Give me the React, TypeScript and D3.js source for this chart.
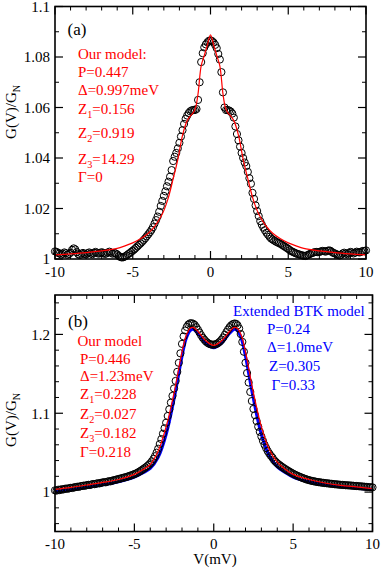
import React from "react";
import * as d3 from "d3";

// bias voltages of the measured points (mV)
const voltages = d3.range(-100, 101).map((i) => i / 10);

// panel (a): measured G(V)/G_N
const expA = [
  1.003, 1.0028, 1.0024, 1.0022, 1.0018, 1.0021, 1.0026, 1.0023, 1.0017, 1.002,
  1.0025, 1.0036, 1.0042, 1.0038, 1.0027, 1.0019, 1.0016, 1.0021, 1.0024, 1.002,
  1.0018, 1.0023, 1.0026, 1.0022, 1.0019, 1.0024, 1.0028, 1.0025, 1.0021, 1.0023,
  1.0027, 1.0024, 1.002, 1.0022, 1.0026, 1.0029, 1.0025, 1.0021, 1.0024, 1.0022,
  1.0018, 1.0012, 1.0008, 1.0006, 1.0007, 1.001, 1.0014, 1.0019, 1.0023, 1.0028,
  1.0033, 1.0038, 1.0044, 1.005, 1.0056, 1.0062, 1.0068, 1.0075, 1.0082, 1.009,
  1.0098, 1.0106, 1.0115, 1.0126, 1.014, 1.0154, 1.0168, 1.0187, 1.021, 1.023,
  1.025, 1.0268, 1.0288, 1.0306, 1.0326, 1.0352, 1.0388, 1.0405, 1.042, 1.0438,
  1.046, 1.0485, 1.051, 1.0535, 1.0555, 1.0568, 1.0578, 1.0585, 1.0589, 1.059,
  1.059, 1.0594, 1.063, 1.07, 1.078, 1.0815, 1.0838, 1.085, 1.0858, 1.0864,
  1.0866,
  1.0863, 1.0857, 1.0848, 1.0835, 1.0812, 1.079, 1.074, 1.066, 1.06, 1.059,
  1.059, 1.0588, 1.0584, 1.0576, 1.056, 1.0525, 1.0495, 1.047, 1.0445, 1.042,
  1.04, 1.0382, 1.0368, 1.0345, 1.032, 1.0298, 1.0262, 1.0238, 1.0212, 1.019,
  1.017, 1.015, 1.0136, 1.0124, 1.0114, 1.0104, 1.0096, 1.0088, 1.0081, 1.0077,
  1.0073, 1.0069, 1.0066, 1.0063, 1.006, 1.0056, 1.0052, 1.0048, 1.0044, 1.004,
  1.0035, 1.0031, 1.0028, 1.0025, 1.0022, 1.002, 1.0018, 1.0016, 1.0014, 1.0013,
  1.0012, 1.0014, 1.0017, 1.002, 1.0023, 1.0025, 1.0027, 1.0028, 1.0027, 1.0028,
  1.003, 1.0032, 1.0031, 1.0029, 1.0032, 1.0034, 1.0033, 1.0028, 1.0024, 1.0022,
  1.0019, 1.0016, 1.0014, 1.0017, 1.0022, 1.0025, 1.0022, 1.0019, 1.0024, 1.0028,
  1.0026, 1.0022, 1.0025, 1.0029, 1.0027, 1.0026, 1.0029, 1.0032, 1.0031, 1.0034,
];

// panel (a): our model fit
const fitAV = [-10, -9, -8, -7, -6, -5.5, -5, -4.5, -4, -3.6, -3.1, -2.75, -2.4, -2.1, -1.8, -1.5, -1.3, -1.1, -0.95, -0.8, -0.6, -0.4, -0.2, 0,
  0.2, 0.4, 0.6, 0.8, 0.95, 1.1, 1.3, 1.5, 1.8, 2.1, 2.4, 2.75, 3.1, 3.6, 4, 4.5, 5, 5.5, 6, 7, 8, 9, 10];
const fitAG = [1.0016, 1.002, 1.0025, 1.0032, 1.0042, 1.0052, 1.0064, 1.008, 1.0102, 1.0128, 1.0178, 1.0235, 1.0318, 1.0395, 1.049, 1.0548, 1.0566, 1.058, 1.0602, 1.0655, 1.0765, 1.0806, 1.0848, 1.0888,
  1.0848, 1.0806, 1.0765, 1.0655, 1.0602, 1.058, 1.0566, 1.0548, 1.049, 1.0395, 1.0318, 1.0235, 1.0178, 1.0128, 1.0102, 1.008, 1.0064, 1.0052, 1.0042, 1.0032, 1.0025, 1.002, 1.0016];

// panel (b): measured G(V)/G_N
const expB = [
  1.0022, 1.0018, 1.003, 1.0025, 1.0036, 1.0032, 1.004, 1.0045, 1.0041, 1.005,
  1.0054, 1.0052, 1.006, 1.0063, 1.0068, 1.0066, 1.0074, 1.0078, 1.0082, 1.008,
  1.0088, 1.0092, 1.009, 1.0097, 1.0102, 1.01, 1.0107, 1.0112, 1.011, 1.0118,
  1.0122, 1.0126, 1.0124, 1.0132, 1.0138, 1.0136, 1.0145, 1.015, 1.0155, 1.016,
  1.0166, 1.017, 1.0176, 1.0182, 1.0186, 1.0192, 1.0198, 1.0206, 1.0212, 1.022,
  1.0228, 1.0236, 1.0246, 1.0258, 1.027, 1.0284, 1.0298, 1.0312, 1.0328, 1.0345,
  1.0365, 1.039, 1.042, 1.0455, 1.05, 1.055, 1.061, 1.0672, 1.074, 1.081,
  1.088, 1.0965, 1.105, 1.1135, 1.122, 1.1315, 1.141, 1.1525, 1.164, 1.176,
  1.188, 1.1975, 1.205, 1.2095, 1.2125, 1.214, 1.2142, 1.2135, 1.212, 1.2092,
  1.206, 1.2025, 1.199, 1.196, 1.1935, 1.1912, 1.1895, 1.1882, 1.1874, 1.187,
  1.187,
  1.1874, 1.1882, 1.1895, 1.1912, 1.1935, 1.1962, 1.1995, 1.203, 1.2062, 1.2092,
  1.2115, 1.213, 1.2138, 1.2135, 1.2115, 1.2075, 1.2005, 1.1905, 1.178, 1.164,
  1.151, 1.139, 1.127, 1.1155, 1.1055, 1.0975, 1.09, 1.083, 1.0765, 1.0705,
  1.065, 1.06, 1.0558, 1.052, 1.0488, 1.046, 1.0436, 1.0405, 1.0384, 1.0366,
  1.035, 1.0335, 1.032, 1.0306, 1.0293, 1.028, 1.0268, 1.0256, 1.0244, 1.0233,
  1.0223, 1.0213, 1.0204, 1.0195, 1.0187, 1.0179, 1.0171, 1.0164, 1.0157, 1.0151,
  1.0146, 1.0141, 1.0137, 1.0133, 1.0129, 1.0126, 1.0123, 1.012, 1.0117, 1.0114,
  1.0112, 1.011, 1.0107, 1.0105, 1.0103, 1.01, 1.0098, 1.0097, 1.0094, 1.0092,
  1.0091, 1.0089, 1.0087, 1.0086, 1.0085, 1.0083, 1.0082, 1.008, 1.0078, 1.0077,
  1.0075, 1.0073, 1.0072, 1.007, 1.0068, 1.0066, 1.0064, 1.0062, 1.0061, 1.006,
];

// panel (b): our model fit (red) and extended BTK fit (blue)
const fitBV = [-10, -9, -8, -7, -6, -5, -4.5, -4, -3.5, -3, -2.5, -2, -1.75, -1.5, -1.3, -1, -0.5, 0,
  0.5, 1, 1.3, 1.5, 1.75, 2, 2.5, 3, 3.5, 4, 4.5, 5, 6, 7, 8, 9, 10];
const fitBG = [1.0035, 1.006, 1.009, 1.0122, 1.016, 1.0225, 1.028, 1.035, 1.052, 1.083, 1.126, 1.178, 1.198, 1.2075, 1.209, 1.204, 1.192, 1.186,
  1.192, 1.204, 1.209, 1.2075, 1.198, 1.178, 1.126, 1.083, 1.054, 1.038, 1.029, 1.0225, 1.016, 1.0115, 1.0085, 1.0065, 1.0045];
const btkG = [1.001, 1.003, 1.006, 1.0092, 1.013, 1.019, 1.024, 1.03, 1.044, 1.073, 1.118, 1.172, 1.194, 1.2045, 1.2065, 1.2015, 1.189, 1.183,
  1.189, 1.2015, 1.2065, 1.2045, 1.194, 1.172, 1.118, 1.073, 1.046, 1.032, 1.025, 1.019, 1.013, 1.0095, 1.007, 1.005, 1.0035];

const xTicks = [-10, -5, 0, 5, 10];
const xTickLabels = ["-10", "-5", "0", "5", "10"];
const yTicksA = [1, 1.02, 1.04, 1.06, 1.08, 1.1];
const yTickLabelsA = ["1", "1.02", "1.04", "1.06", "1.08", "1.1"];
const yTicksB = [1, 1.1, 1.2];
const yTickLabelsB = ["1", "1.1", "1.2"];

const paramsA = ["Our model:", "P=0.447", "Δ=0.997meV", "Z_1=0.156", "Z_2=0.919", "Z_3=14.29", "Γ=0"];
const paramsB = ["Our model", "P=0.446", "Δ=1.23meV", "Z_1=0.228", "Z_2=0.027", "Z_3=0.182", "Γ=0.218"];
const paramsBTK = ["Extended BTK model", "P=0.24", "Δ=1.0meV", "Z=0.305", "Γ=0.33"];

const RED = "#ff0000";
const BLUE = "#0000ff";
const FONT = "'Liberation Serif', 'Times New Roman', serif";

// "Z_1=0.156" -> Z with subscript 1
function Label({ s, x, y, color, size = 15 }) {
  const parts = s.split("_");
  if (parts.length === 1)
    return (
      <text x={x} y={y} fill={color} fontSize={size}>
        {s}
      </text>
    );
  return (
    <text x={x} y={y} fill={color} fontSize={size}>
      {parts[0]}
      <tspan fontSize={size * 0.68} dy={4}>
        {parts[1][0]}
      </tspan>
      <tspan dy={-4}>{parts[1].slice(1)}</tspan>
    </text>
  );
}

function Frame({ x, y, yTicks, yLabels, yMinor, xLabelY }) {
  const [l, r] = x.range();
  const [b, t] = y.range();
  const xMinor = d3.range(-10, 11).filter((v) => v % 5 !== 0);
  return (
    <g>
      {xMinor.map((v) => (
        <g key={"xm" + v}>
          <line x1={x(v)} x2={x(v)} y1={b} y2={b - 4} stroke="black" />
          <line x1={x(v)} x2={x(v)} y1={t} y2={t + 4} stroke="black" />
        </g>
      ))}
      {xTicks.map((v, i) => (
        <g key={"x" + v}>
          <line x1={x(v)} x2={x(v)} y1={b} y2={b - 8} stroke="black" strokeWidth={1.2} />
          <line x1={x(v)} x2={x(v)} y1={t} y2={t + 8} stroke="black" strokeWidth={1.2} />
          <text x={x(v)} y={xLabelY} textAnchor="middle" fontSize={15}>
            {xTickLabels[i]}
          </text>
        </g>
      ))}
      {yMinor.map((v) => (
        <g key={"ym" + v}>
          <line x1={l} x2={l + 4} y1={y(v)} y2={y(v)} stroke="black" />
          <line x1={r} x2={r - 4} y1={y(v)} y2={y(v)} stroke="black" />
        </g>
      ))}
      {yTicks.map((v, i) => (
        <g key={"y" + v}>
          <line x1={l} x2={l + 8} y1={y(v)} y2={y(v)} stroke="black" strokeWidth={1.2} />
          <line x1={r} x2={r - 8} y1={y(v)} y2={y(v)} stroke="black" strokeWidth={1.2} />
          <text x={l - 5} y={y(v)} dy="0.35em" textAnchor="end" fontSize={15}>
            {yLabels[i]}
          </text>
        </g>
      ))}
      <rect x={l} y={t} width={r - l} height={b - t} fill="none" stroke="black" strokeWidth={1.6} />
    </g>
  );
}

function YTitle({ x, y }) {
  return (
    <text transform={`translate(${x},${y}) rotate(-90)`} textAnchor="middle" fontSize={15}>
      G(V)/G
      <tspan fontSize={10} dy={4}>
        N
      </tspan>
    </text>
  );
}

export default function App() {
  const xA = d3.scaleLinear().domain([-10, 10]).range([55, 366]);
  const yA = d3.scaleLinear().domain([1, 1.1]).range([259, 6.5]);
  const xB = d3.scaleLinear().domain([-10, 10]).range([55, 372.5]);
  const yB = d3.scaleLinear().domain([0.95, 1.25]).range([531.5, 295]);

  const yMinorA = d3.range(100, 111).map((i) => i / 100).filter((v) => !yTicksA.some((t) => Math.abs(t - v) < 1e-6));
  const yMinorB = d3.range(48, 63).map((i) => i / 50).filter((v) => !yTicksB.some((t) => Math.abs(t - v) < 1e-6));

  const curve = d3.curveCatmullRom.alpha(0.5);
  const lineA = d3.line<number>().x((d, i) => xA(fitAV[i])).y((d) => yA(d)).curve(curve);
  const lineB = d3.line<number>().x((d, i) => xB(fitBV[i])).y((d) => yB(d)).curve(curve);

  const aY = [58.5, 76.5, 94.5, 113.5, 138, 163.5, 182];
  const bY = [345.5, 363.5, 380.5, 399, 419, 437.5, 457];
  const btkY = [315.5, 333.5, 351.5, 370.5, 390];
  const btkX = [233, 267, 267, 269, 271.5];

  return (
    <svg
      width={382}
      height={568}
      style={{ position: "absolute", left: 0, top: 0, background: "white" }}
      fontFamily={FONT}
    >
      {/* panel (a) */}
      <g>
        {expA.map((g, i) => (
          <circle key={i} cx={xA(voltages[i])} cy={yA(g)} r={3.6} fill="none" stroke="black" strokeWidth={1} />
        ))}
        <path d={lineA(fitAG)} fill="none" stroke={RED} strokeWidth={1.2} />
        <Frame x={xA} y={yA} yTicks={yTicksA} yLabels={yTickLabelsA} yMinor={yMinorA} xLabelY={277} />
        <text x={67.5} y={35} fontSize={17}>
          (a)
        </text>
        {paramsA.map((s, i) => (
          <Label key={s} s={s} x={78} y={aY[i]} color={RED} />
        ))}
        <YTitle x={15.5} y={112} />
      </g>

      {/* panel (b) */}
      <g>
        <path d={lineB(btkG)} fill="none" stroke={BLUE} strokeWidth={3} />
        {expB.map((g, i) => (
          <circle key={i} cx={xB(voltages[i])} cy={yB(g)} r={3.6} fill="none" stroke="black" strokeWidth={1} />
        ))}
        <path d={lineB(fitBG)} fill="none" stroke={RED} strokeWidth={1.2} />
        <Frame x={xB} y={yB} yTicks={yTicksB} yLabels={yTickLabelsB} yMinor={yMinorB} xLabelY={549} />
        <text x={68} y={327} fontSize={17}>
          (b)
        </text>
        {paramsB.map((s, i) => (
          <Label key={s} s={s} x={i === 0 ? 77.5 : 80} y={bY[i]} color={RED} />
        ))}
        {paramsBTK.map((s, i) => (
          <Label key={s} s={s} x={btkX[i]} y={btkY[i]} color={BLUE} />
        ))}
        <YTitle x={15.5} y={420} />
        <text x={215} y={564} textAnchor="middle" fontSize={15}>
          V(mV)
        </text>
      </g>
    </svg>
  );
}
